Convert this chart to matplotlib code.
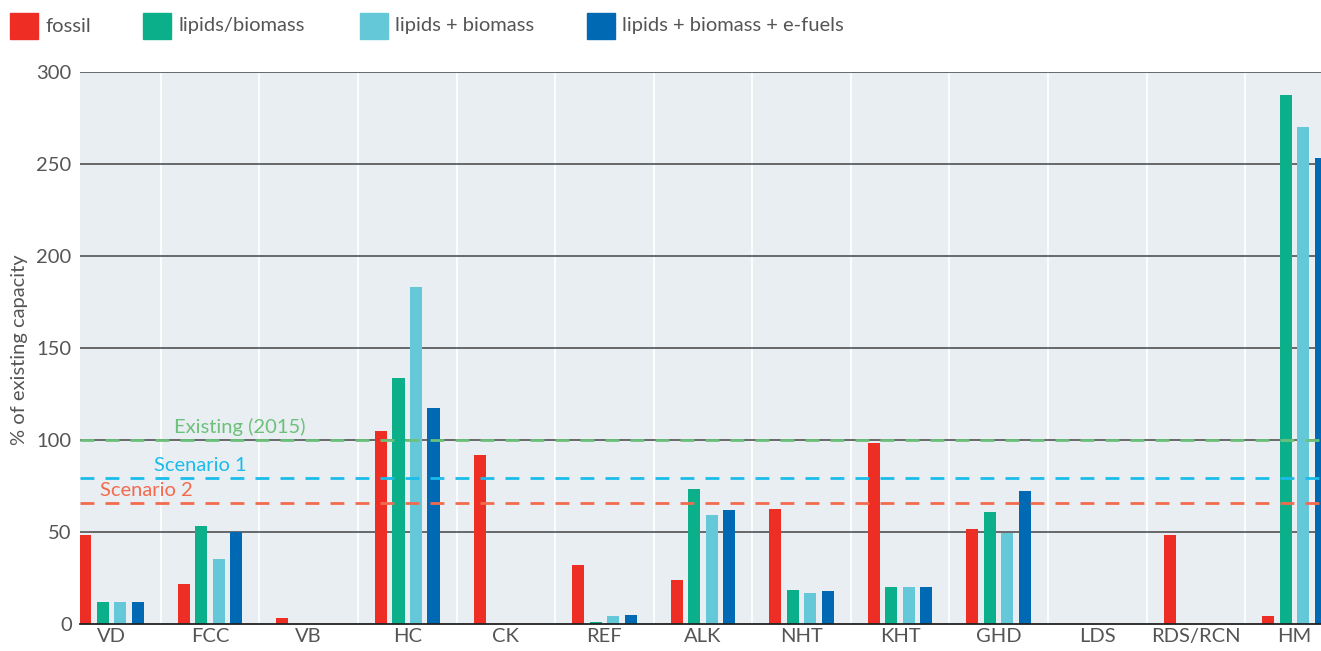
import matplotlib.pyplot as plt
import numpy as np

units = ["VD", "FCC", "VB", "HC", "CK", "REF", "ALK", "NHT", "KHT", "GHD", "LDS", "RDS/RCN", "HM"]
fossil = [48.5, 22, 3.3, 105, 92, 32, 24, 62.5, 98.5, 51.7, 0, 48.5, 4.3]
lipids_biomass = [12.1, 53.5, 0, 133.7, 0, 1.1, 73.5, 18.5, 20.1, 61, 0, 0, 287.5]
lipids_plus_biomass = [12.1, 35.5, 0, 183, 0, 4.3, 59.5, 17, 20.1, 49.5, 0, 0, 270]
lipids_biomass_efuels = [12.1, 50, 0, 117.5, 0, 5, 62, 18, 20.1, 72.3, 0, 0, 253.3]

series_names = ["fossil", "lipids/biomass", "lipids + biomass", "lipids + biomass + e-fuels"]
colors = ["#EE2E24", "#0BB08B", "#64C8D8", "#0069B4"]

ref_values = [100, 79.3, 65.8]
ref_labels = ["Existing (2015)", "Scenario 1", "Scenario 2"]
ref_colors = ["#6CC17A", "#1BBCEB", "#F26B4F"]

plt.rcParams['font.family'] = ['Lato', 'DejaVu Sans']
txt = "#555555"
fs = 14.5

fig = plt.figure(figsize=(13.21, 6.51), dpi=100)
ax = fig.add_axes([80 / 1321, 27 / 651, 1241 / 1321, 552 / 651])
ax.set_facecolor("#E9EEF2")

x = np.arange(len(units))
pitch = 0.1775
width = 0.122
data = [fossil, lipids_biomass, lipids_plus_biomass, lipids_biomass_efuels]
for k, (vals, c) in enumerate(zip(data, colors)):
    ax.bar(x + (k - 1.5) * pitch, vals, width, color=c, zorder=3)

# white separators between groups
for b in np.arange(len(units) - 1) + 0.5:
    ax.axvline(b, color="white", lw=1.2, zorder=1)

for v in [50, 100, 150, 200, 250, 300]:
    ax.axhline(v, color="#444444", lw=1.1, zorder=2)

for v, lab, c, xt in zip(ref_values, ref_labels, ref_colors, [1.3, 0.9, 0.35]):
    ax.axhline(v, color=c, lw=2, dashes=(5, 4), zorder=4)
    ax.text(xt, v + 2.2, lab, color=c, fontsize=fs, ha="center", va="bottom")

ax.set_xlim(-0.32, 12.27)
ax.set_ylim(0, 300)
ax.set_xticks(x)
ax.set_xticklabels(units)
ax.set_yticks([0, 50, 100, 150, 200, 250, 300])
ax.tick_params(axis="both", length=0, labelsize=fs, labelcolor=txt, pad=6)
ax.tick_params(axis="x", pad=3)
for s in ["top", "right", "left"]:
    ax.spines[s].set_visible(False)
ax.spines["bottom"].set_color("#222222")
ax.spines["bottom"].set_linewidth(1.3)
ax.spines["bottom"].set_zorder(5)

fig.text(20 / 1321, 1 - 350 / 651, "% of existing capacity", rotation=90,
         fontsize=fs, color=txt, ha="center", va="center")

# legend row
leg_x = [10, 143, 360, 587]
for lx, name, c in zip(leg_x, series_names, colors):
    fig.patches.append(plt.Rectangle((lx / 1321, 1 - 39 / 651), 28 / 1321, 26 / 651,
                                     transform=fig.transFigure, color=c, figure=fig))
    fig.text((lx + 35) / 1321, 1 - 26 / 651, name, fontsize=fs, color=txt,
             ha="left", va="center")

fig.savefig("out.png", dpi=100)
